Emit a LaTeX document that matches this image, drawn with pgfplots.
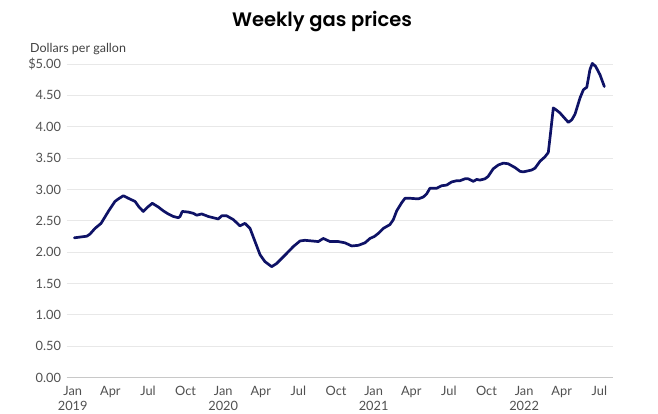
\documentclass[border=0pt]{standalone}
\usepackage{fontspec}
\setmainfont{Lato}
\newfontfamily\titlefont{Poppins}[UprightFont=* SemiBold]
\usepackage{pgfplots}
\pgfplotsset{compat=1.18}
\definecolor{navy}{RGB}{14,18,102}
\definecolor{tickgray}{RGB}{80,80,80}
\definecolor{gridgray}{RGB}{232,232,232}
\definecolor{axgray}{RGB}{200,200,200}
\begin{document}
\begin{tikzpicture}[x=1pt,y=1pt]
\useasboundingbox (0,0) rectangle (658,413);
\node[anchor=base, inner sep=0, font=\titlefont\fontsize{19.5}{24}\selectfont] at (322,386.3) {Weekly gas prices};
\node[anchor=base west, inner sep=0, font=\fontsize{12.5}{15}\selectfont, text=tickgray!80!black] at (30,360) {Dollars per gallon};
\begin{axis}[
  at={(66.7pt,35.3pt)}, anchor=south west,
  scale only axis, width=546.3pt, height=313.7pt,
  xmin=-0.48, xmax=43.09, ymin=0, ymax=5,
  axis lines=left,
  axis line style={-},
  y axis line style={draw=none},
  x axis line style={draw=axgray, line width=1.2pt},
  ymajorgrids, grid style={gridgray, line width=1pt},
  major tick length=0pt,
  xtick={0,3,...,42},
  xticklabels={{Jan\\2019},Apr,Jul,Oct,{Jan\\2020},Apr,Jul,Oct,{Jan\\2021},Apr,Jul,Oct,{Jan\\2022},Apr,Jul},
  ytick={0,0.5,...,5},
  yticklabels={0.00,0.50,1.00,1.50,2.00,2.50,3.00,3.50,4.00,4.50,\$5.00},
  x tick label style={align=center, font=\fontsize{12.8}{15}\selectfont, text=tickgray, inner sep=0pt, yshift=-8pt},
  y tick label style={font=\fontsize{12.8}{15}\selectfont, text=tickgray, inner sep=0pt, xshift=-5.5pt},
  clip=false,
]
\addplot[navy, line width=2.7pt, line join=round, line cap=round] table {
0.13 2.23
1.12 2.255
1.38 2.29
1.78 2.38
2.26 2.46
2.84 2.65
3.37 2.81
3.64 2.85
4.04 2.90
4.43 2.86
4.97 2.81
5.29 2.72
5.63 2.65
5.98 2.72
6.35 2.78
6.83 2.72
7.22 2.66
7.62 2.61
8.02 2.57
8.42 2.55
8.56 2.57
8.74 2.65
9.22 2.64
9.62 2.62
9.89 2.59
10.29 2.61
10.81 2.57
11.21 2.55
11.61 2.53
11.88 2.58
12.28 2.58
12.81 2.52
13.34 2.42
13.74 2.46
14.14 2.38
14.54 2.17
14.94 1.96
15.33 1.85
15.87 1.77
16.26 1.82
16.66 1.90
17.06 1.98
17.59 2.09
18.13 2.18
18.52 2.19
19.06 2.18
19.59 2.17
19.98 2.22
20.52 2.17
21.18 2.17
21.71 2.15
22.25 2.10
22.78 2.11
23.31 2.15
23.71 2.22
24.05 2.25
24.37 2.30
24.77 2.38
25.30 2.44
25.57 2.52
25.84 2.66
26.24 2.79
26.50 2.86
26.90 2.86
27.56 2.85
27.96 2.88
28.23 2.93
28.49 3.02
29.03 3.02
29.43 3.06
29.82 3.07
30.22 3.12
30.62 3.14
30.89 3.14
31.28 3.17
31.55 3.17
31.95 3.13
32.22 3.16
32.48 3.15
32.88 3.17
33.14 3.21
33.54 3.33
33.94 3.39
34.34 3.42
34.73 3.41
35.27 3.35
35.67 3.29
35.93 3.28
36.60 3.31
36.87 3.34
37.27 3.45
37.66 3.52
37.93 3.59
38.12 3.92
38.33 4.30
38.55 4.27
38.86 4.22
39.26 4.13
39.53 4.07
39.80 4.11
40.06 4.20
40.46 4.46
40.73 4.59
41.00 4.63
41.25 4.91
41.44 5.01
41.71 4.96
42.05 4.83
42.40 4.64
};
\end{axis}
\end{tikzpicture}
\end{document}
